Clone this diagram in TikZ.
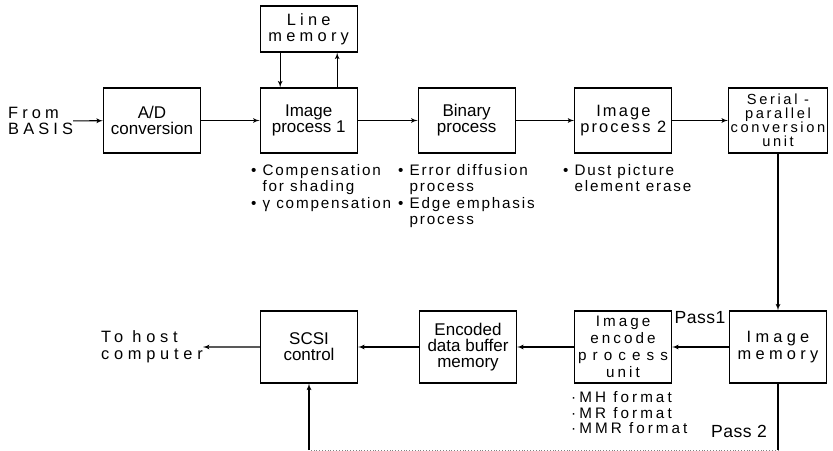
\documentclass[tikz,border=0pt]{standalone}
\usepackage{fontspec}
\setmainfont{Liberation Sans}
\usetikzlibrary{arrows}
\newcommand\ls[1]{\addfontfeature{LetterSpace=#1}}
\newcommand\bul{\textbullet\ }
\newcommand\bulgap{\phantom{\textbullet\ }}
\tikzstyle{block} = [rectangle, draw, line width=1.1pt, minimum width=29.1mm, minimum height=19.5mm, inner sep=0pt, align=center, font=\fontsize{14.5}{13.5}\selectfont]
\tikzstyle{tall} = [block, minimum height=21.6mm]
\tikzstyle{line} = [draw, line width=0.9pt, -latex']
\tikzstyle{note} = [anchor=north west, inner sep=0pt, align=left, font=\fontsize{13}{14}\selectfont\ls{12}]
\tikzstyle{outtext} = [inner sep=0pt, align=left, font=\fontsize{14}{13}\selectfont\ls{25}]

\begin{document}
\begin{tikzpicture}[x=0.3mm, y=-0.3mm, node distance=47mm]
    \useasboundingbox (0,0) rectangle (833,451);

    % top row
    \node[block](ad) at (152,120.5){A/D\\conversion};
    \node[block, right of=ad](ip1){Image\\process 1};
    \node[block, above of=ip1, node distance=27.45mm, minimum height=13.8mm, font=\fontsize{14}{13.7}\selectfont\ls{26}](lmem){Line\\memory};
    \node[block, right of=ip1, node distance=47.4mm](bin){Binary\\process};
    \node[block, right of=bin, font=\fontsize{14}{13.5}\selectfont\ls{13}](ip2){Image\\process 2};
    \node[block, right of=ip2, node distance=46.4mm, minimum width=29.7mm, font=\fontsize{12.5}{12}\selectfont\ls{18}](sp){Serial -\\parallel\\conversion\\unit};

    % bottom row
    \node[tall, below of=sp, node distance=67.95mm, font=\fontsize{14}{14.5}\selectfont\ls{26}](immem){Image\\memory};
    \node[tall, left of=immem, node distance=46.5mm, font=\fontsize{13}{14.5}\selectfont\ls{20}](enc){Image\\encode\\{\ls{40}process}\\unit};
    \node[tall, left of=enc, node distance=46.5mm](buf){Encoded\\data buffer\\memory};
    \node[tall, left of=buf, node distance=47.7mm](scsi){SCSI\\control};

    % outer ends
    \node[outtext, anchor=west](basis) at (8,121){From\\BASIS};
    \node[outtext, anchor=east, font=\fontsize{14}{14.5}\selectfont\ls{29}](host) at (203,347){To host\\computer};
    \node[outtext, font=\fontsize{15}{15}\selectfont\ls{3}](pass1) at (700,318){Pass1};
    \node[outtext, font=\fontsize{15}{15}\selectfont\ls{3}](pass2) at (739,431){Pass 2};
    \coordinate (turn) at (immem.south |- 0,450);

    % notes
    \node[note](n1) at (251,164){\bul Compensation\\\bulgap for shading\\\bul γ compensation};
    \node[note](n2) at (398,164){\bul Error diffusion\\\bulgap process\\\bul Edge emphasis\\\bulgap process};
    \node[note](n3) at (563,164){\bul Dust picture\\\bulgap element erase};
    \node[note, font=\fontsize{13}{13.5}\selectfont\ls{20}](n4) at (571,391){·MH format\\·MR format\\·MMR format};

    \path[line] (basis) -- (ad);
    \path[line] (ad) -- (ip1);
    \path[line] ([xshift=-8.55mm]lmem.south) -- ([xshift=-8.55mm]ip1.north);
    \path[line] ([xshift=8.55mm]ip1.north) -- ([xshift=8.55mm]lmem.south);
    \path[line] (ip1) -- (bin);
    \path[line] (bin) -- (ip2);
    \path[line] (ip2) -- (sp);
    \path[line] (sp) -- (immem);
    \path[line] (immem) -- (enc);
    \path[line] (enc) -- (buf);
    \path[line] (buf) -- (scsi);
    \path[line] (scsi) -- (host);
    \draw[line width=0.9pt] (immem.south) -- (turn);
    \draw[dotted, gray] (turn) -- (turn -| scsi.south);
    \path[line] (turn -| scsi.south) -- (scsi.south);
\end{tikzpicture}
\end{document}
